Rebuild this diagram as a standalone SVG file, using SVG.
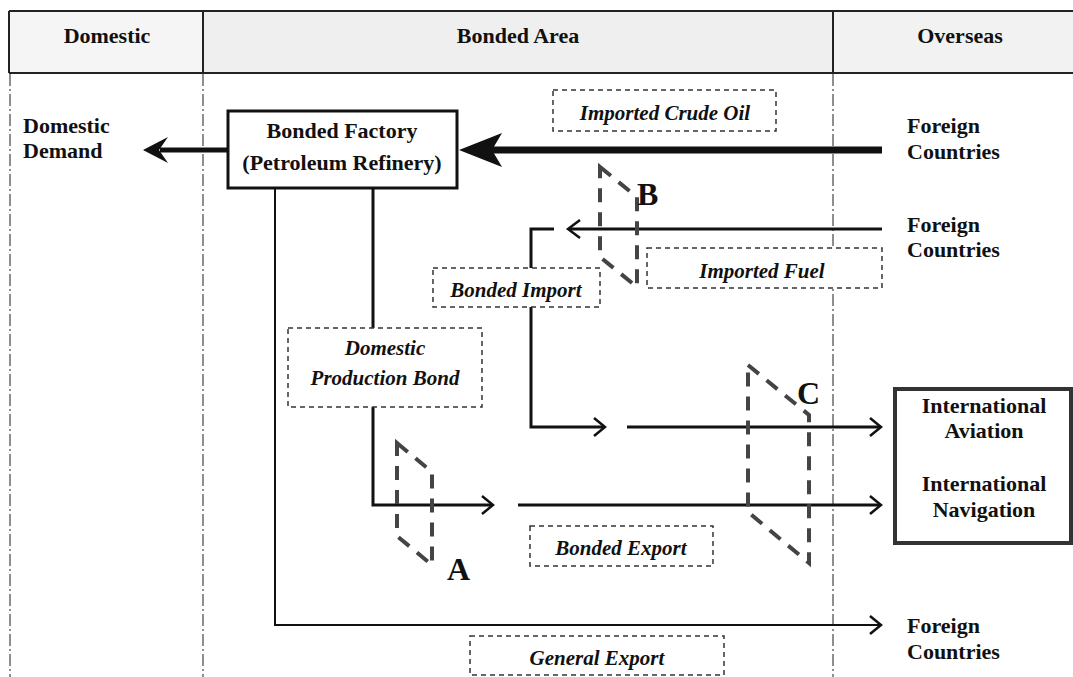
<svg xmlns="http://www.w3.org/2000/svg" width="1073" height="677" viewBox="0 0 1073 677">
<style>
.hdr{font-family:"Liberation Serif","Times New Roman",serif;font-weight:bold;font-size:22px;fill:#111;text-anchor:middle}
.t{font-family:"Liberation Serif","Times New Roman",serif;font-weight:bold;font-size:22px;fill:#111}
.c{text-anchor:middle}
.lbl{font-family:"Liberation Serif","Times New Roman",serif;font-weight:bold;font-style:italic;font-size:21px;fill:#111;text-anchor:middle}
.let{font-family:"Liberation Serif","Times New Roman",serif;font-weight:bold;font-size:32px;fill:#111}
.dd{stroke:#444;stroke-width:1.2;stroke-dasharray:12 3 2 3;fill:none}
.lbox{fill:#fff;stroke:#333;stroke-width:1.5;stroke-dasharray:5 4}
.gate{fill:none;stroke:#444;stroke-width:4;stroke-dasharray:14 10}
.ln{fill:none;stroke:#111;stroke-linejoin:miter}
.chev{fill:none;stroke:#111;stroke-width:2.5}
</style>
<rect width="1073" height="677" fill="#fff"/>
<g id="header">
<rect x="9" y="11" width="194" height="62" fill="#f5f5f5"/>
<rect x="203" y="11" width="630" height="62" fill="#efefef"/>
<rect x="833" y="11" width="240" height="62" fill="#f2f2f2"/>
<path d="M9,11 H1073 M9,73 H1073 M9,11 V73 M203,11 V73 M833,11 V73" stroke="#222" stroke-width="2" fill="none"/>
<text class="hdr" x="107" y="43">Domestic</text>
<text class="hdr" x="518" y="43">Bonded Area</text>
<text class="hdr" x="960" y="43">Overseas</text>
</g>
<g id="zones">
<line class="dd" x1="10" y1="74" x2="10" y2="677"/>
<line class="dd" x1="203" y1="74" x2="203" y2="677"/>
<line class="dd" x1="833" y1="74" x2="833" y2="677"/>
</g>
<g id="connectors">
<line class="ln" x1="227" y1="150" x2="160" y2="150" stroke-width="5"/>
<path d="M143,150 L168,137 L159,150 L168,163 Z" fill="#111"/>
<line class="ln" x1="882" y1="150" x2="492" y2="150" stroke-width="7"/>
<path d="M459,150 L502,133 L492,150 L502,167 Z" fill="#111"/>
<line class="ln" x1="882" y1="229" x2="569" y2="229" stroke-width="3"/>
<polyline class="chev" points="580,220 568,229 580,238"/>
<path class="ln" d="M554,229 H531 V427 H604" stroke-width="3"/>
<polyline class="chev" points="594,418 605,427 594,436"/>
<line class="ln" x1="627" y1="427" x2="880" y2="427" stroke-width="3"/>
<polyline class="chev" points="870,418 881,427 870,436"/>
<path class="ln" d="M373,189 V328 M373,407 V505 H492" stroke-width="3"/>
<polyline class="chev" points="482,496 493,505 482,514"/>
<line class="ln" x1="518" y1="505" x2="880" y2="505" stroke-width="3"/>
<polyline class="chev" points="870,496 881,505 870,514"/>
<path class="ln" d="M275,189 V625 H880" stroke-width="2"/>
<polyline class="chev" points="870,616 881,625 870,634"/>
</g>
<g id="gateA">
<polygon class="gate" points="397,443 432,472 432,565 397,536"/>
<text class="let" x="447" y="580">A</text>
</g>
<g id="gateB">
<polygon class="gate" points="600,167 637,197 637,287 600,257"/>
<text class="let" x="637" y="205">B</text>
</g>
<g id="gateC">
<polygon class="gate" points="748,365 809,415 809,563 748,512"/>
<text class="let" x="797" y="404">C</text>
</g>
<g id="factory">
<rect x="228" y="111" width="229" height="77" fill="#fff" stroke="#111" stroke-width="3"/>
<text class="t c" x="342" y="138">Bonded Factory</text>
<text class="t c" x="342" y="170">(Petroleum Refinery)</text>
</g>
<g id="domestic-demand">
<text class="t" x="23" y="133">Domestic</text>
<text class="t" x="23" y="158">Demand</text>
</g>
<g id="foreign1">
<text class="t" x="907" y="133">Foreign</text>
<text class="t" x="907" y="159">Countries</text>
</g>
<g id="foreign2">
<text class="t" x="907" y="232">Foreign</text>
<text class="t" x="907" y="257">Countries</text>
</g>
<g id="foreign3">
<text class="t" x="907" y="633">Foreign</text>
<text class="t" x="907" y="659">Countries</text>
</g>
<g id="international">
<rect x="895" y="389" width="176" height="154" fill="#fff" stroke="#333" stroke-width="4"/>
<text class="t c" x="984" y="413">International</text>
<text class="t c" x="984" y="438">Aviation</text>
<text class="t c" x="984" y="491">International</text>
<text class="t c" x="984" y="517">Navigation</text>
</g>
<g id="lbl-crude">
<rect class="lbox" x="553" y="90" width="223" height="41"/>
<text class="lbl" x="665" y="120">Imported Crude Oil</text>
</g>
<g id="lbl-fuel">
<rect class="lbox" x="647" y="248" width="235" height="40"/>
<text class="lbl" x="762" y="278">Imported Fuel</text>
</g>
<g id="lbl-bimport">
<rect class="lbox" x="433" y="268" width="167" height="39"/>
<text class="lbl" x="516" y="297">Bonded Import</text>
</g>
<g id="lbl-dpb">
<rect class="lbox" x="288" y="328" width="194" height="79"/>
<text class="lbl" x="385" y="355">Domestic</text>
<text class="lbl" x="385" y="385">Production Bond</text>
</g>
<g id="lbl-bexport">
<rect class="lbox" x="530" y="526" width="183" height="40"/>
<text class="lbl" x="621" y="555">Bonded Export</text>
</g>
<g id="lbl-gexport">
<rect class="lbox" x="470" y="636" width="254" height="39"/>
<text class="lbl" x="597" y="665">General Export</text>
</g>
</svg>
